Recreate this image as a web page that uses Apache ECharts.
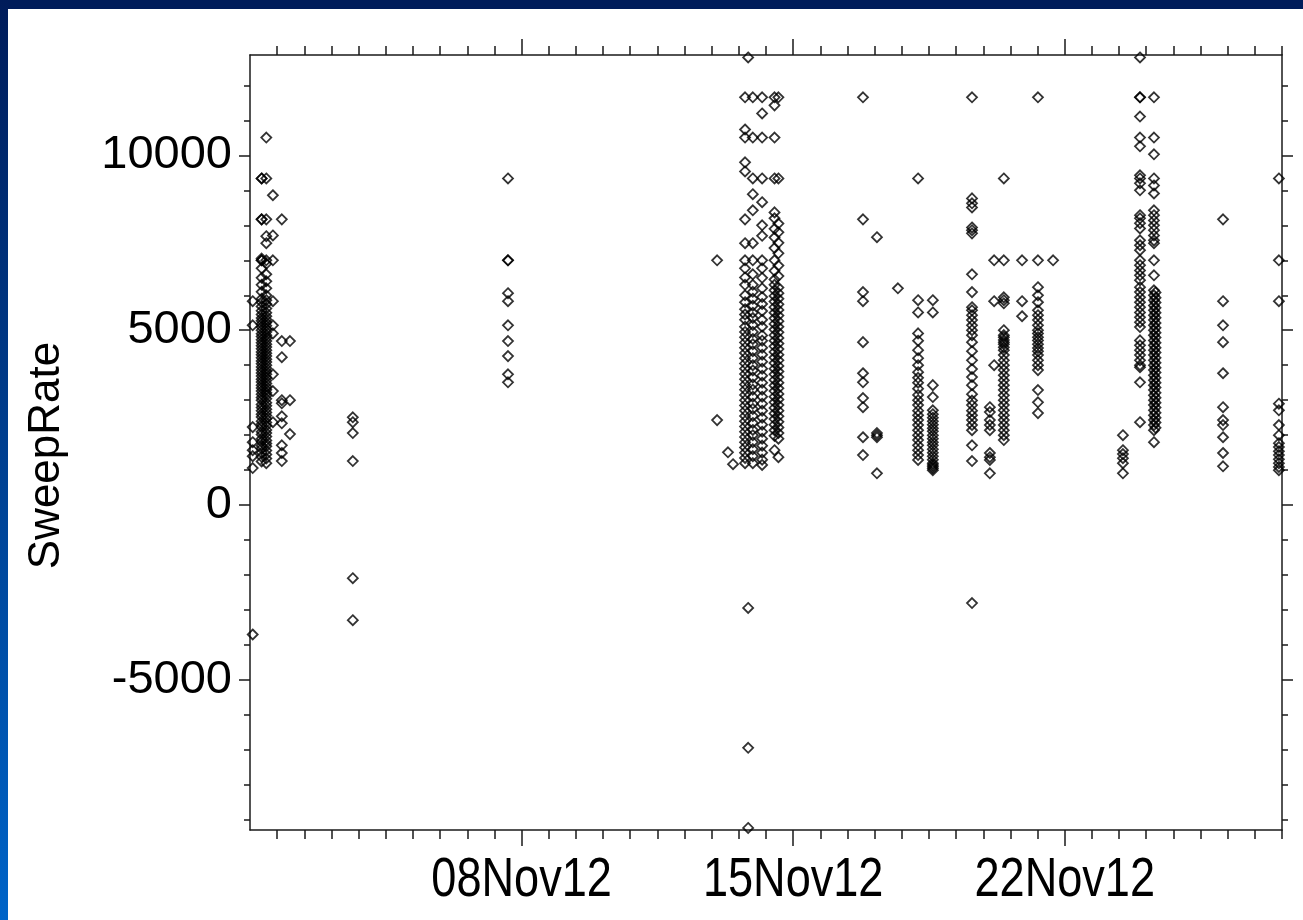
<!DOCTYPE html>
<html>
<head>
<meta charset="utf-8">
<script src="https://cdn.jsdelivr.net/npm/echarts@6/dist/echarts.min.js"></script>
<style>
html,body{margin:0;padding:0;background:#fff;}
#chart{width:1303px;height:920px;}
</style>
</head>
<body>
<div id="chart"></div>
<script>
// x values are day-of-month (November 2012, fractional days)
const xMin = 1, xMax = 27.6;
const yMin = -9290, yMax = 12870;
const xMajorTicks = [8, 15, 22];
const xTickLabels = ['08Nov12', '15Nov12', '22Nov12'];
const yMajorTicks = [-5000, 0, 5000, 10000];
const yTitle = 'SweepRate';

// ---- columns of points: [day, values] ----
const d0107 = 1.07, v0107 = [5830, 5140, 2230, 1800, 1570, 1400, 1060, -3700];
const d0130 = 1.30, v0130 = [1250, 1380, 1500, 1620, 1700, 1810, 1900, 2020, 2100, 2230, 2310, 2400, 2520, 2600, 2700, 2790, 2880, 3000, 3080, 3170, 3260, 3350, 3430, 3520, 3600, 3690, 3780, 3860, 3950, 4040, 4120, 4210, 4300, 4380, 4470, 4560, 4640, 4730, 4820, 4900, 5000, 5090, 5180, 5270, 5350, 5450, 5560, 5680, 5800, 5900, 6100, 6300, 6500, 6770, 7000, 7000, 7050, 8170, 8170, 9340, 9340];
const d0142 = 1.42, v0142 = [1200, 1330, 1450, 1560, 1680, 1760, 1850, 1960, 2060, 2150, 2270, 2360, 2470, 2560, 2650, 2740, 2840, 2930, 3040, 3130, 3210, 3300, 3390, 3480, 3560, 3650, 3740, 3820, 3910, 4000, 4090, 4170, 4260, 4340, 4430, 4520, 4600, 4690, 4770, 4860, 4950, 5040, 5130, 5220, 5310, 5400, 5500, 5620, 5750, 5860, 6000, 6200, 6400, 6600, 6900, 7000, 7490, 7690, 8170, 9340, 10510];
const d0159 = 1.59, v0159 = [8860, 7710, 7000, 5830, 5140, 4910, 3740, 3260, 2370];
const d0182 = 1.82, v0182 = [8170, 4690, 4230, 3000, 2910, 2540, 2340, 1710, 1490, 1260];
const d0203 = 2.03, v0203 = [4690, 3000, 2030];
const d0365 = 3.65, v0365 = [2510, 2370, 2060, 1260, -2090, -3290];
const d0765 = 7.65, v0765 = [9340, 7000, 7000, 6060, 5830, 5140, 4690, 4260, 3740, 3510];
const d1304 = 13.04, v1304 = [7000, 2430];
const d1332 = 13.32, v1332 = [1510];
const d1345 = 13.45, v1345 = [1170];
const d1376 = 13.76, v1376 = [11660, 10740, 10510, 9800, 9540, 8170, 7490, 7000, 6770, 6510, 6300, 6000, 5800, 5600, 5450, 5300, 5100, 4950, 4800, 4650, 4500, 4350, 4200, 4050, 3900, 3750, 3600, 3450, 3300, 3150, 3000, 2850, 2700, 2550, 2400, 2250, 2100, 1950, 1800, 1650, 1500, 1350, 1200];
const d1384 = 13.84, v1384 = [12800, -2940, -6940, -9230];
const d1396 = 13.96, v1396 = [11660, 10510, 9340, 8890, 8430, 7490, 7000, 6600, 6300, 6100, 5900, 5700, 5500, 5350, 5150, 4950, 4750, 4600, 4400, 4200, 4000, 3850, 3650, 3450, 3300, 3100, 2900, 2750, 2550, 2350, 2150, 2000, 1800, 1600, 1400, 1200];
const d1420 = 14.20, v1420 = [11660, 11200, 10510, 9340, 8660, 8000, 7700, 7000, 6770, 6500, 6200, 5950, 5750, 5550, 5300, 5100, 4850, 4700, 4500, 4300, 4100, 3900, 3700, 3500, 3300, 3100, 2900, 2700, 2500, 2300, 2100, 1900, 1700, 1500, 1300, 1150];
const d1452 = 14.52, v1452 = [11660, 11430, 10510, 9340, 8370, 8200, 7900, 7650, 7350, 7000, 6700, 6450, 6300, 6140, 5980, 5820, 5660, 5500, 5340, 5180, 5020, 4860, 4700, 4540, 4380, 4220, 4060, 3900, 3740, 3580, 3420, 3260, 3100, 2940, 2780, 2620, 2460, 2300, 2140, 1980, 1570];
const d1462 = 14.62, v1462 = [11660, 9340, 8050, 7800, 7500, 7200, 6850, 6550, 6220, 6060, 5900, 5740, 5580, 5420, 5260, 5100, 4940, 4780, 4620, 4460, 4300, 4140, 3980, 3820, 3660, 3500, 3340, 3180, 3020, 2860, 2700, 2540, 2380, 2220, 2060, 1900, 1370];
const d1680 = 16.80, v1680 = [11660, 8170, 6090, 5830, 4660, 3770, 3510, 3060, 2800, 1940, 1430];
const d1716 = 17.16, v1716 = [7660, 2060, 2000, 1940, 910];
const d1770 = 17.70, v1770 = [6200];
const d1822 = 18.22, v1822 = [9340, 5860, 5510, 4910, 4700, 4430, 4200, 4000, 3800, 3640, 3500, 3330, 3150, 3000, 2860, 2700, 2570, 2430, 2290, 2140, 2000, 1860, 1710, 1570, 1430, 1290];
const d1860 = 18.60, v1860 = [5860, 5510, 3430, 3090, 2710, 2600, 2500, 2400, 2300, 2200, 2110, 2000, 1900, 1800, 1710, 1600, 1500, 1400, 1300, 1200, 1150, 1100, 1050, 1000];
const d1961 = 19.61, v1961 = [11660, 8770, 8630, 8510, 7940, 7860, 7770, 6600, 6090, 5660, 5570, 5430, 5290, 5140, 5000, 4860, 4660, 4400, 4140, 3890, 3660, 3430, 3170, 2990, 2860, 2700, 2570, 2430, 2290, 2140, 1710, 1260, -2800];
const d2007 = 20.07, v2007 = [2800, 2660, 2430, 2290, 2140, 1490, 1370, 1290, 910];
const d2018 = 20.18, v2018 = [7000, 5830, 4000];
const d2043 = 20.43, v2043 = [9340, 7000, 5940, 5860, 5770, 5000, 4860, 4800, 4720, 4660, 4600, 4510, 4430, 4290, 4140, 4000, 3860, 3710, 3570, 3430, 3290, 3140, 3000, 2860, 2710, 2570, 2430, 2290, 2140, 2000, 1860];
const d2090 = 20.90, v2090 = [7000, 5830, 5400];
const d2131 = 21.31, v2131 = [11660, 7000, 6230, 6000, 5800, 5570, 5430, 5290, 5140, 5000, 4910, 4800, 4710, 4600, 4490, 4400, 4290, 4140, 4000, 3860, 3290, 2940, 2630];
const d2170 = 21.70, v2170 = [7000];
const d2350 = 23.50, v2350 = [2000, 1570, 1460, 1340, 1200, 910];
const d2394 = 23.94, v2394 = [12800, 11660, 11660, 11110, 10510, 10260, 9430, 9340, 9200, 9000, 8290, 8200, 8060, 7910, 7570, 7430, 7290, 7000, 6860, 6710, 6570, 6430, 6230, 6090, 5940, 5800, 5660, 5510, 5370, 5230, 5090, 4710, 4570, 4430, 4290, 4140, 4000, 3940, 3510, 2370];
const d2430 = 24.30, v2430 = [11660, 10510, 10030, 9340, 9140, 8910, 8430, 8290, 8140, 8000, 7860, 7710, 7570, 7490, 7000, 6570, 6140, 6000, 5860, 5710, 5570, 5430, 5290, 5140, 5000, 4860, 4710, 4570, 4430, 4290, 4140, 4000, 3860, 3710, 3570, 3430, 3290, 3140, 3000, 2860, 2710, 2570, 2430, 2290, 2140, 1800];
const d2434 = 24.34, v2434 = [6080, 5930, 5790, 5640, 5500, 5360, 5210, 5070, 4930, 4790, 4640, 4500, 4360, 4210, 4070, 3930, 3790, 3640, 3500, 3360, 3210, 3070, 2930, 2790, 2640, 2500, 2360, 2210];
const d2608 = 26.08, v2608 = [8170, 5830, 5140, 4660, 3770, 2800, 2430, 2290, 1940, 1490, 1110];
const d2752 = 27.52, v2752 = [9340, 7000, 5830, 2900, 2710, 2290, 2000, 1770, 1660, 1540, 1430, 1310, 1200, 1090, 1000];

const columns = [
  [d0107, v0107], [d0130, v0130], [d0142, v0142], [d0159, v0159], [d0182, v0182], [d0203, v0203],
  [d0365, v0365], [d0765, v0765], [d1304, v1304], [d1332, v1332], [d1345, v1345],
  [d1376, v1376], [d1384, v1384], [d1396, v1396], [d1420, v1420], [d1452, v1452], [d1462, v1462],
  [d1680, v1680], [d1716, v1716], [d1770, v1770], [d1822, v1822], [d1860, v1860],
  [d1961, v1961], [d2007, v2007], [d2018, v2018], [d2043, v2043], [d2090, v2090], [d2131, v2131], [d2170, v2170],
  [d2350, v2350], [d2394, v2394], [d2430, v2430], [d2434, v2434], [d2608, v2608], [d2752, v2752]
];
const points = [];
columns.forEach(([d, vals]) => vals.forEach(v => points.push([d, v])));

// minor tick positions (axis decoration)
const xMinorTicks = [];
for (let k = 1; k <= 38; k++) { if (k % 10 !== 0) xMinorTicks.push(+(xMin + 0.7 * k).toFixed(2)); }
const yMinorTicks = [];
for (let v = -9000; v <= 12000; v += 1000) { if (v % 5000 !== 0) yMinorTicks.push(v); }

const axisColor = '#1a1a1a';

function xAxisDef(pos, ticks, len, showLine) {
  return {
    type: 'value', min: xMin, max: xMax, position: pos,
    axisLine: { show: showLine, onZero: false, lineStyle: { color: axisColor, width: 1.5 } },
    axisTick: { show: true, inside: false, length: len, customValues: ticks, lineStyle: { color: axisColor, width: 1.5 } },
    axisLabel: { show: false },
    splitLine: { show: false }
  };
}
function yAxisDef(pos, ticks, len, showLine, showLabel, name) {
  const a = {
    type: 'value', min: yMin, max: yMax, position: pos,
    axisLine: { show: showLine, onZero: false, lineStyle: { color: axisColor, width: 1.5 } },
    axisTick: { show: true, inside: false, length: len, customValues: ticks, lineStyle: { color: axisColor, width: 1.5 } },
    axisLabel: { show: showLabel, customValues: ticks, margin: 18, formatter: v => String(v),
      fontFamily: '"Liberation Sans", Arial, sans-serif', fontSize: 47, color: '#000' },
    splitLine: { show: false }
  };
  if (name) {
    a.name = name; a.nameLocation = 'middle'; a.nameGap = 181; a.nameRotate = 90;
    a.nameTextStyle = { fontFamily: '"Liberation Sans", Arial, sans-serif', fontSize: 44, color: '#000', lineHeight: 44, padding: [0, 26, 0, 0] };
  }
  return a;
}

const chart = echarts.init(document.getElementById('chart'), null, { renderer: 'canvas' });
chart.setOption({
  animation: false,
  backgroundColor: '#ffffff',
  grid: { left: 250, right: 21, top: 55, bottom: 90, containLabel: false },
  xAxis: [
    xAxisDef('bottom', xMajorTicks, 16, true),
    xAxisDef('bottom', xMinorTicks, 9, false),
    xAxisDef('top', xMajorTicks, 16, true),
    xAxisDef('top', xMinorTicks, 9, false)
  ],
  yAxis: [
    yAxisDef('left', yMajorTicks, 11, true, true, yTitle),
    yAxisDef('left', yMinorTicks, 6, false, false),
    yAxisDef('right', yMajorTicks, 11, true, false),
    yAxisDef('right', yMinorTicks, 6, false, false)
  ],
  series: [{
    type: 'scatter', xAxisIndex: 0, yAxisIndex: 0,
    symbol: 'diamond', symbolSize: [10, 10],
    itemStyle: { color: 'rgba(0,0,0,0)', borderColor: '#000', borderWidth: 1.8 },
    data: points
  }]
});

// frame bars and condensed date labels placed through the x-axis scale
const graphics = [
  { type: 'rect', id: 'topbar', left: 0, top: 0, shape: { width: 1303, height: 9 }, style: { fill: '#001c5a' }, z: 100 },
  { type: 'rect', id: 'leftbar', left: 0, top: 0, shape: { width: 8, height: 920 },
    style: { fill: new echarts.graphic.LinearGradient(0, 0, 0, 1, [
      { offset: 0, color: '#001c5a' }, { offset: 1, color: '#0064c8' }]) }, z: 100 }
];
xMajorTicks.forEach((t, i) => {
  const px = chart.convertToPixel({ xAxisIndex: 0 }, t);
  graphics.push({
    type: 'text', id: 'xl' + i, x: px, y: 881, scaleX: 0.82, z: 50,
    style: { text: xTickLabels[i], fill: '#000', fontSize: 55,
      fontFamily: '"Liberation Sans", Arial, sans-serif', align: 'center', verticalAlign: 'middle' }
  });
});
chart.setOption({ graphic: graphics });
</script>
</body>
</html>
